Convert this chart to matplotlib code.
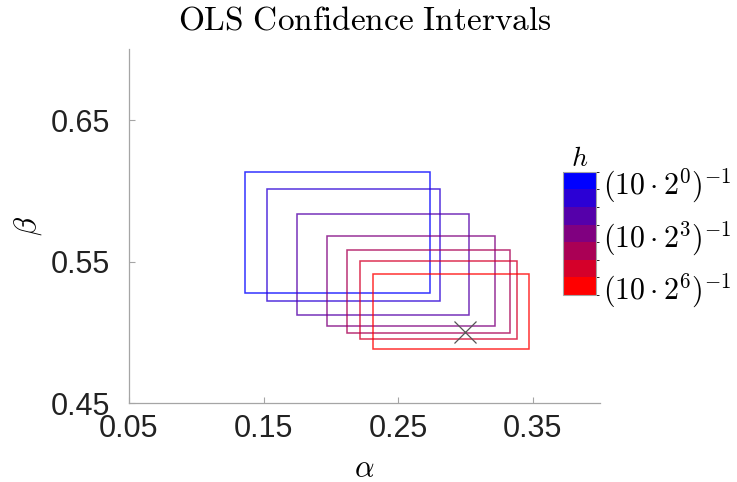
import matplotlib
matplotlib.use("Agg")
import matplotlib.pyplot as plt
import numpy as np
from matplotlib.patches import Rectangle
from matplotlib.colors import ListedColormap, BoundaryNorm
from matplotlib.cm import ScalarMappable

plt.rcParams['mathtext.fontset'] = 'cm'

# Data: confidence-interval boxes for step sizes h = (10*2^k)^-1
k_exp = [0, 1, 2, 3, 4, 5, 6]
alpha_lo = [0.136, 0.1525, 0.175, 0.197, 0.212, 0.222, 0.231]
alpha_hi = [0.274, 0.2815, 0.303, 0.322, 0.333, 0.3385, 0.3475]
beta_lo = [0.5275, 0.522, 0.5125, 0.5045, 0.4998, 0.4952, 0.4882]
beta_hi = [0.6133, 0.6014, 0.5835, 0.568, 0.5582, 0.5501, 0.5409]
true_alpha = [0.30]
true_beta = [0.50]
cbar_ticks = [0, 3, 6]
cbar_ticklabels = [r'$(10\cdot 2^{0})^{-1}$', r'$(10\cdot 2^{3})^{-1}$', r'$(10\cdot 2^{6})^{-1}$']
x_ticks = [0.05, 0.15, 0.25, 0.35]
y_ticks = [0.45, 0.55, 0.65]

n = len(k_exp)
colors = [(k / (n - 1), 0.0, 1 - k / (n - 1)) for k in k_exp]
cmap = ListedColormap(colors)

fig = plt.figure(figsize=(7.37, 4.82), dpi=100)
ax = fig.add_axes([0.175, 0.1639, 0.639, 0.7338])

for i in range(n):
    ax.add_patch(Rectangle((alpha_lo[i], beta_lo[i]),
                           alpha_hi[i] - alpha_lo[i], beta_hi[i] - beta_lo[i],
                           fill=False, edgecolor=colors[i], lw=1.1, alpha=0.8))

ax.plot(true_alpha, true_beta, marker='x', color='#555555', markersize=16,
        markeredgewidth=0.9, linestyle='none')

ax.set_xlim(0.05, 0.40)
ax.set_ylim(0.45, 0.70)
ax.set_xticks(x_ticks)
ax.set_yticks(y_ticks)
ax.set_xticklabels(['%.2f' % v for v in x_ticks], fontfamily='Liberation Sans', fontsize=22)
ax.set_yticklabels(['%.2f' % v for v in y_ticks], fontfamily='Liberation Sans', fontsize=22)
for s in ['top', 'right']:
    ax.spines[s].set_visible(False)
for s in ['left', 'bottom']:
    ax.spines[s].set_color('#a5a5a5')
    ax.spines[s].set_linewidth(0.9)
ax.tick_params(direction='in', length=4, width=0.8, color='#a5a5a5',
               labelcolor='#222222')
ax.tick_params(axis='x', pad=8)
ax.tick_params(axis='y', pad=13.5)

ax.set_xlabel(r'$\alpha$', fontsize=22, labelpad=7)
ax.set_ylabel(r'$\beta$', fontsize=22, labelpad=5)

fig.text(0.495, 1 - 20 / 482, r'$\mathrm{OLS\ Confidence\ Intervals}$',
         ha='center', va='center', fontsize=24)

cax = fig.add_axes([0.7643, 0.388, 0.0444, 0.2558])
norm = BoundaryNorm(np.arange(-0.5, n + 0.5, 1), n)
sm = ScalarMappable(norm=norm, cmap=cmap)
cb = fig.colorbar(sm, cax=cax, ticks=cbar_ticks)
cb.ax.invert_yaxis()
cb.ax.set_yticklabels(cbar_ticklabels, fontsize=21.5)
cb.ax.tick_params(length=0, pad=5)
cb.outline.set_edgecolor('#a5a5a5')
cb.outline.set_linewidth(0.8)
cax.set_title(r'$h$', fontsize=20, pad=3)

fig.savefig('out.png', dpi=100)
